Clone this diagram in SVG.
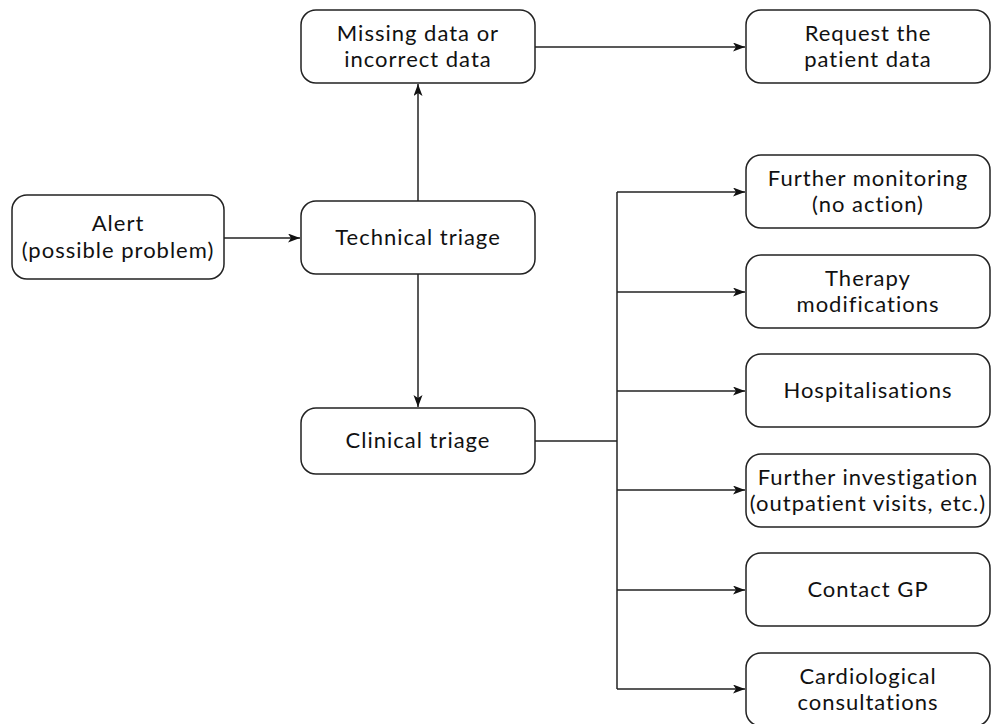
<svg xmlns="http://www.w3.org/2000/svg" width="991" height="724" viewBox="0 0 991 724">
<style>
.box{fill:#fff;stroke:#222;stroke-width:1.5}
.t{font-family:Lato,"Open Sans","Noto Sans",sans-serif;font-size:22px;letter-spacing:1px;font-variant-ligatures:none;fill:#111;text-anchor:middle}
.c{fill:none;stroke:#222;stroke-width:1.5}
</style>
<defs>
<marker id="ah" markerUnits="userSpaceOnUse" markerWidth="14" markerHeight="10" refX="12" refY="4.5" orient="auto">
<path d="M0,0 L12,4.5 L0,9 L3,4.5 z" fill="#111"/>
</marker>
</defs>
<g id="connectors">
<path class="c" d="M224,238 H300" marker-end="url(#ah)"/>
<path class="c" d="M418,201 V84" marker-end="url(#ah)"/>
<path class="c" d="M535,47 H745" marker-end="url(#ah)"/>
<path class="c" d="M418,274 V407" marker-end="url(#ah)"/>
<path class="c" d="M535,441 H617"/>
<path class="c" d="M617,192 V689"/>
<path class="c" d="M617,192 H745" marker-end="url(#ah)"/>
<path class="c" d="M617,292 H745" marker-end="url(#ah)"/>
<path class="c" d="M617,391 H745" marker-end="url(#ah)"/>
<path class="c" d="M617,490 H745" marker-end="url(#ah)"/>
<path class="c" d="M617,590 H745" marker-end="url(#ah)"/>
<path class="c" d="M617,689 H745" marker-end="url(#ah)"/>
</g>
<g id="alert">
<rect class="box" x="12" y="195" width="212" height="84" rx="15"/>
<text class="t" x="118" y="231">Alert</text>
<text class="t" x="118" y="258">(possible problem)</text>
</g>
<g id="technical">
<rect class="box" x="301" y="201" width="234" height="73" rx="15"/>
<text class="t" x="418" y="245">Technical triage</text>
</g>
<g id="missing">
<rect class="box" x="301" y="10" width="234" height="73" rx="15"/>
<text class="t" x="418" y="40.5">Missing data or</text>
<text class="t" x="418" y="67">incorrect data</text>
</g>
<g id="request">
<rect class="box" x="746" y="10" width="244" height="73" rx="15"/>
<text class="t" x="868" y="40.5">Request the</text>
<text class="t" x="868" y="67">patient data</text>
</g>
<g id="clinical">
<rect class="box" x="301" y="408" width="234" height="66" rx="15"/>
<text class="t" x="418" y="448">Clinical triage</text>
</g>
<g id="monitoring">
<rect class="box" x="746" y="155" width="244" height="73" rx="15"/>
<text class="t" x="868" y="185.5">Further monitoring</text>
<text class="t" x="868" y="212">(no action)</text>
</g>
<g id="therapy">
<rect class="box" x="746" y="255" width="244" height="73" rx="15"/>
<text class="t" x="868" y="285.5">Therapy</text>
<text class="t" x="868" y="312">modifications</text>
</g>
<g id="hospital">
<rect class="box" x="746" y="354" width="244" height="73" rx="15"/>
<text class="t" x="868" y="398">Hospitalisations</text>
</g>
<g id="investigation">
<rect class="box" x="746" y="454" width="244" height="73" rx="15"/>
<text class="t" x="868" y="484.5">Further investigation</text>
<text class="t" x="868" y="511">(outpatient visits, etc.)</text>
</g>
<g id="gp">
<rect class="box" x="746" y="553" width="244" height="73" rx="15"/>
<text class="t" x="868" y="597">Contact GP</text>
</g>
<g id="cardio">
<rect class="box" x="746" y="653" width="244" height="73" rx="15"/>
<text class="t" x="868" y="683.5">Cardiological</text>
<text class="t" x="868" y="710">consultations</text>
</g>
</svg>
